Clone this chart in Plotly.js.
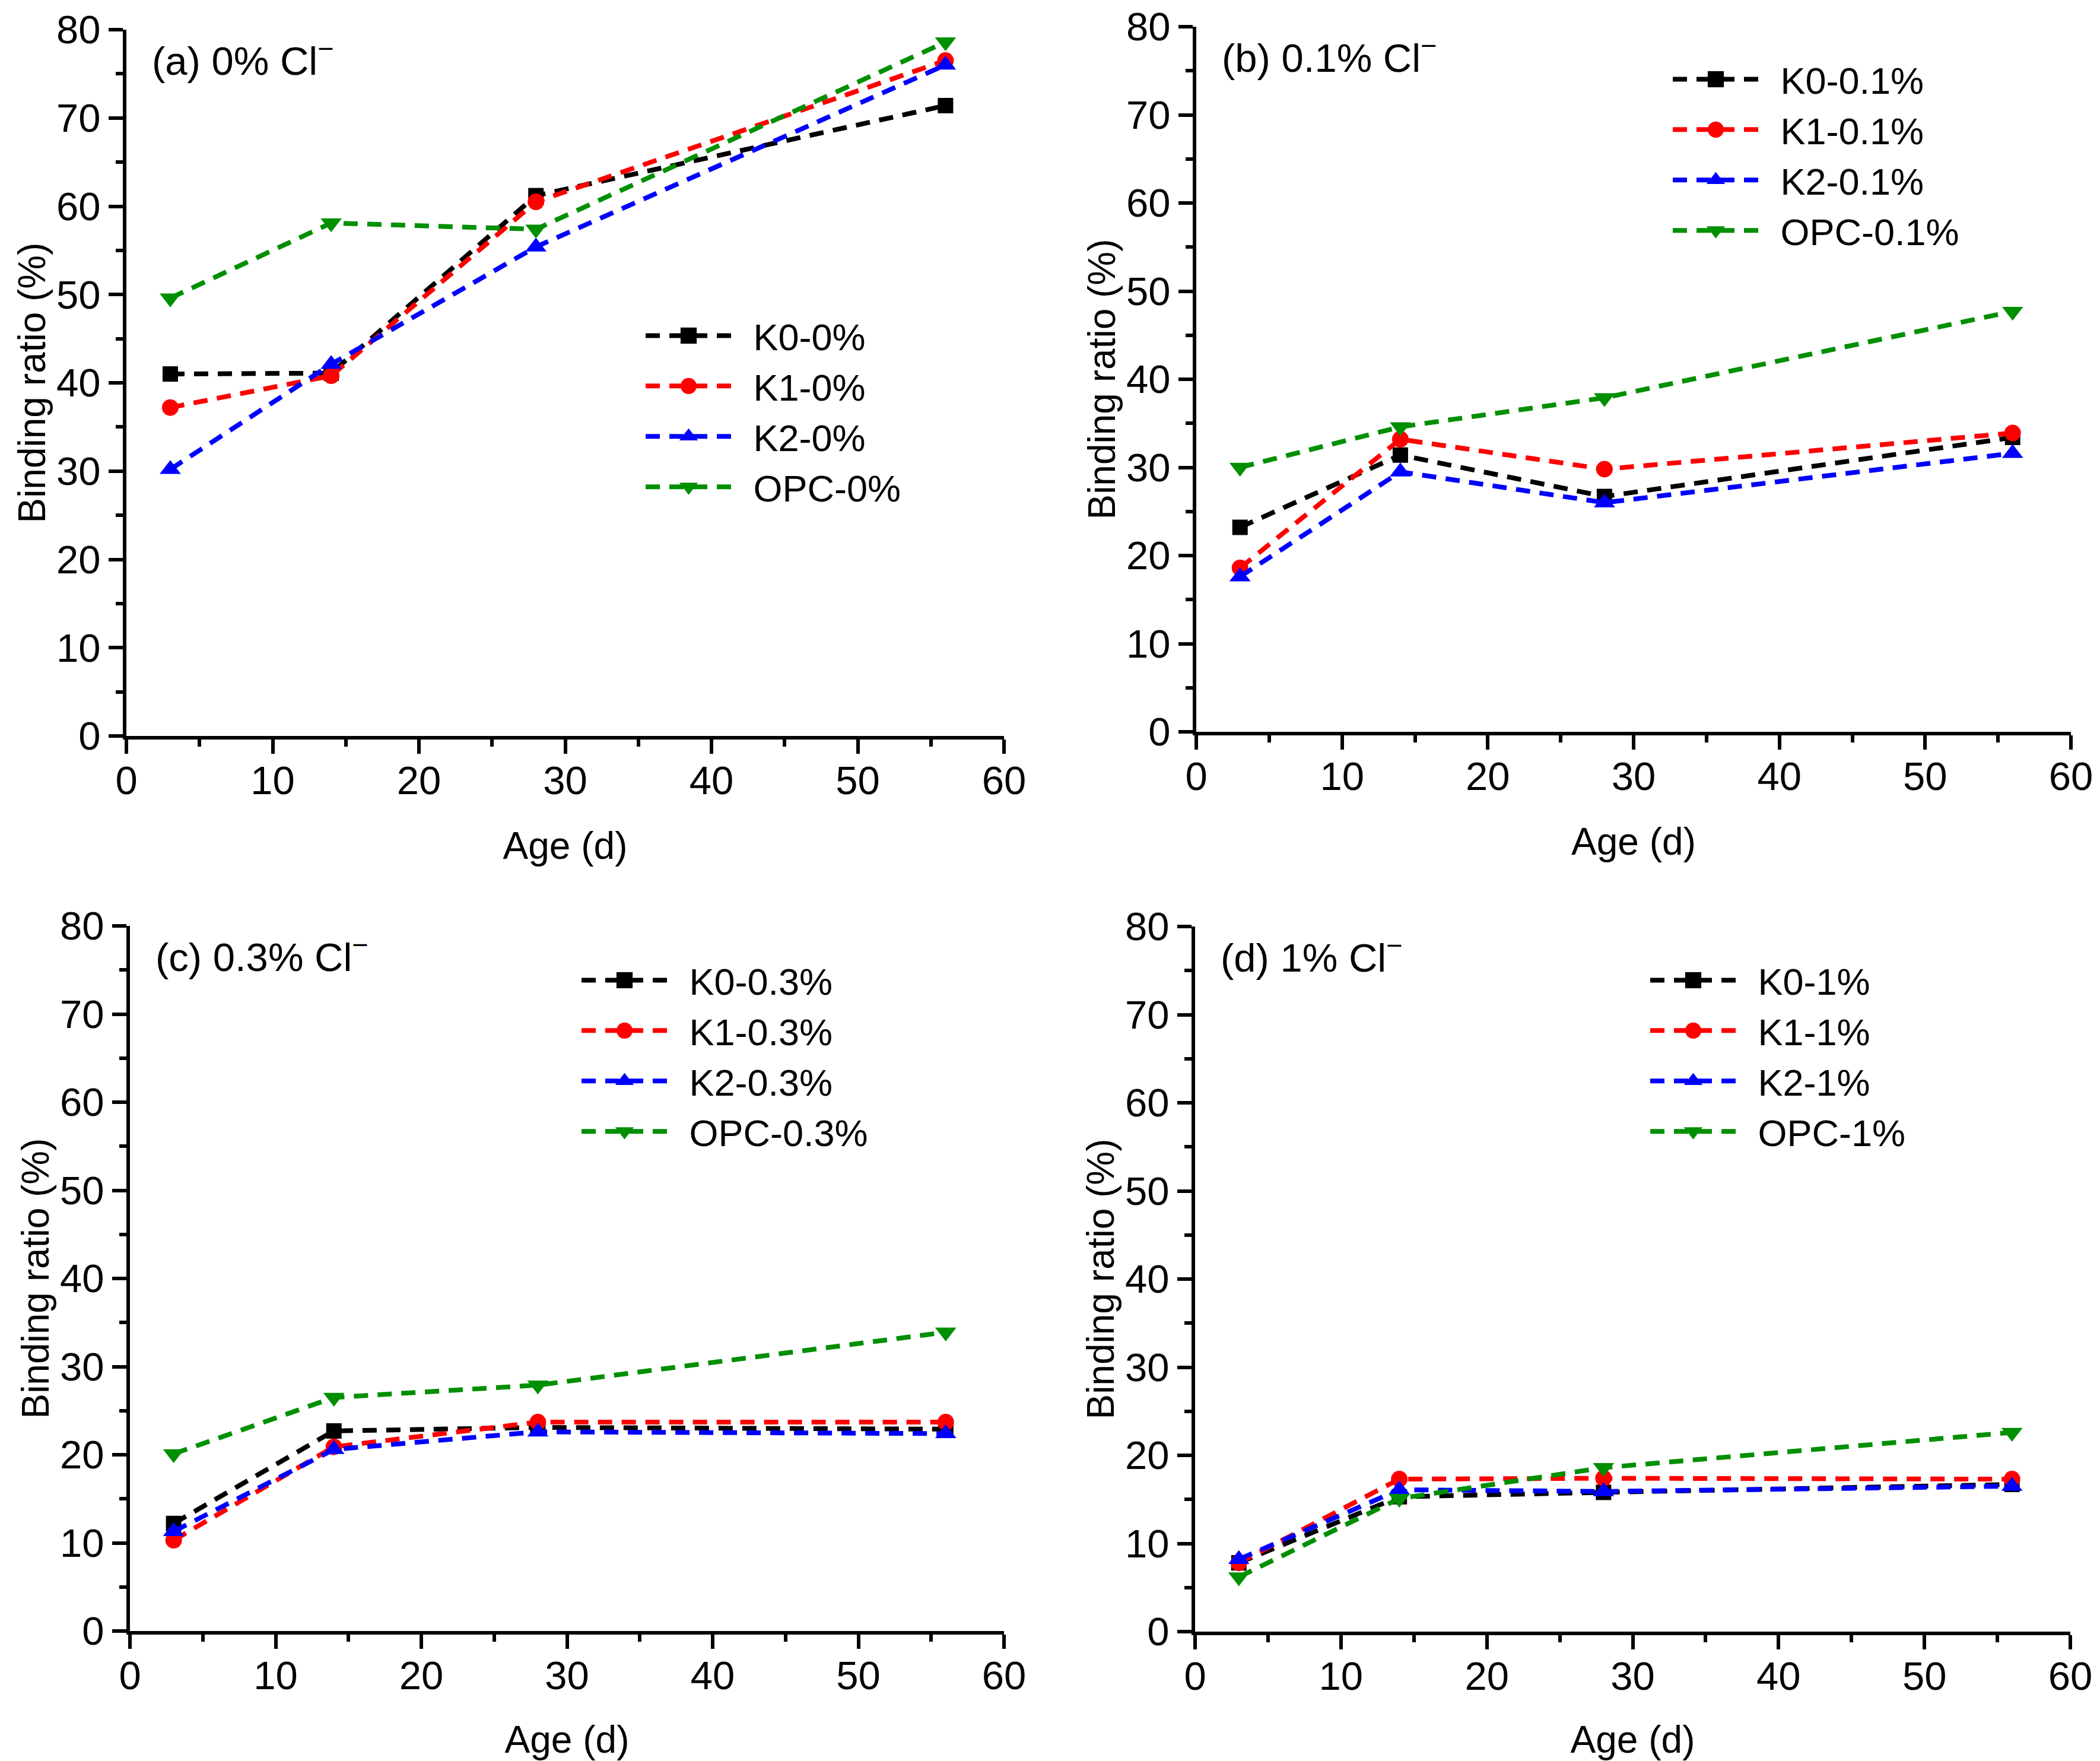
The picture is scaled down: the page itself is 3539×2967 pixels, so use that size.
<!DOCTYPE html>
<html>
<head>
<meta charset="utf-8">
<script src="https://cdn.plot.ly/plotly-3.0.1.min.js"></script>
<style>html,body{margin:0;padding:0;background:#fff;}#chart{width:3539px;height:2967px;}</style>
</head>
<body>
<div id="chart"></div>
<script>
// ---------------- data ----------------
const ages = [3, 14, 28, 56];

const a_K0  = [41.0, 41.1, 61.2, 71.4];
const a_K1  = [37.2, 40.8, 60.5, 76.5];
const a_K2  = [30.2, 42.1, 55.4, 76.0];
const a_OPC = [49.6, 58.1, 57.4, 78.6];

const b_K0  = [23.2, 31.4, 26.7, 33.4];
const b_K1  = [18.6, 33.2, 29.8, 33.9];
const b_K2  = [17.6, 29.5, 26.0, 31.6];
const b_OPC = [30.0, 34.6, 37.9, 47.7];

const c_K0  = [12.2, 22.7, 23.1, 22.9];
const c_K1  = [10.3, 20.9, 23.7, 23.7];
const c_K2  = [11.3, 20.6, 22.6, 22.4];
const c_OPC = [20.1, 26.5, 27.9, 33.9];

const d_K0  = [7.8, 15.3, 15.8, 16.7];
const d_K1  = [7.8, 17.3, 17.4, 17.3];
const d_K2  = [8.2, 16.1, 15.9, 16.5];
const d_OPC = [6.2, 15.1, 18.6, 22.6];

const seriesNames = ['K0', 'K1', 'K2', 'OPC'];
const panelLevels = ['0%', '0.1%', '0.3%', '1%'];
const panelLetters = ['(a)', '(b)', '(c)', '(d)'];
const xTicks = [0, 10, 20, 30, 40, 50, 60];
const yTicks = [0, 10, 20, 30, 40, 50, 60, 70, 80];
const xTitle = 'Age (d)';
const yTitle = 'Binding ratio (%)';

// ---------------- styles ----------------
const colors  = ['#000000', '#ff0000', '#0000ff', '#008f00'];
const symbols = ['square', 'circle', 'triangle-up', 'triangle-down'];
const msizes  = [26, 28, 31, 31];
const FONT = 'Liberation Sans, Arial, sans-serif';
const W = 3539, H = 2967;

const panelData = [
  [a_K0, a_K1, a_K2, a_OPC],
  [b_K0, b_K1, b_K2, b_OPC],
  [c_K0, c_K1, c_K2, c_OPC],
  [d_K0, d_K1, d_K2, d_OPC]
];

// pixel boxes: [left, right, top, bottom]
const boxes = [
  [213, 1692, 50, 1240],
  [2016, 3490, 45, 1233],
  [219, 1692, 1560, 2748],
  [2014, 3489, 1561, 2749]
];
// legend anchor (line start x, first row center y)
const legPos = [[1088, 566], [2819, 134], [980, 1652], [2781, 1652]];

const traces = [];
const layout = {
  width: W, height: H,
  margin: {l: 0, r: 0, t: 0, b: 0},
  paper_bgcolor: '#ffffff', plot_bgcolor: '#ffffff',
  font: {family: FONT, size: 67, color: '#000'},
  showlegend: true,
  annotations: []
};

panelData.forEach((ser, p) => {
  const sfx = p === 0 ? '' : String(p + 1);
  const legName = p === 0 ? 'legend' : 'legend' + (p + 1);
  const b = boxes[p];
  ser.forEach((vals, i) => {
    traces.push({
      type: 'scatter', mode: 'lines+markers',
      x: ages, y: vals,
      xaxis: 'x' + sfx, yaxis: 'y' + sfx,
      name: '\u2002' + seriesNames[i] + '-' + panelLevels[p],
      legend: legName,
      line: {color: colors[i], width: 8, dash: '24px,16px'},
      marker: {symbol: symbols[i], size: msizes[i], color: colors[i], line: {width: 0}}
    });
  });
  const axCommon = {
    showgrid: false, zeroline: false, showline: true,
    linecolor: '#000', linewidth: 6,
    ticks: 'outside', ticklen: 24, tickwidth: 6, tickcolor: '#000',
    tickfont: {family: FONT, size: 67, color: '#000'},
    fixedrange: true, automargin: false
  };
  layout['xaxis' + sfx] = Object.assign({}, axCommon, {
    domain: [b[0] / W, b[1] / W],
    anchor: 'y' + sfx,
    range: [0, 60], tickvals: xTicks, ticktext: xTicks.map(String),
    ticklabelstandoff: -12,
    minor: {dtick: 5, tick0: 0, ticks: 'outside', ticklen: 12, tickwidth: 6, tickcolor: '#000'},
    title: {text: xTitle, font: {family: FONT, size: 64, color: '#000'}}
  });
  layout['yaxis' + sfx] = Object.assign({}, axCommon, {
    domain: [1 - b[3] / H, 1 - b[2] / H],
    anchor: 'x' + sfx,
    range: [0, 80], tickvals: yTicks, ticktext: yTicks.map(String),
    minor: {dtick: 5, tick0: 0, ticks: 'outside', ticklen: 12, tickwidth: 6, tickcolor: '#000'},
    title: {text: yTitle, font: {family: FONT, size: 64, color: '#000'}}
  });
  layout[legName] = {
    x: (legPos[p][0] - 5) / W, y: 1 - (legPos[p][1] - 48) / H,
    xanchor: 'left', yanchor: 'top', xref: 'paper', yref: 'paper',
    bgcolor: 'rgba(0,0,0,0)', borderwidth: 0,
    font: {family: FONT, size: 63, color: '#000'},
    itemwidth: 145, tracegroupgap: 0, traceorder: 'normal'
  };
  layout.annotations.push({
    xref: 'x' + sfx + ' domain', yref: 'y' + sfx + ' domain',
    x: 0.028, y: 0.96, xanchor: 'left', yanchor: 'middle', showarrow: false,
    text: panelLetters[p] + ' ' + panelLevels[p] + ' Cl<sup>\u2212</sup>',
    font: {family: FONT, size: 67, color: '#000'}
  });
});

function postStyle() {
  document.querySelectorAll('.legendpoints path.scatterpts').forEach(el => {
    const t = el.getAttribute('transform') || '';
    if (t.indexOf('scale') < 0) el.setAttribute('transform', t + ' scale(1.7)');
  });
  document.querySelectorAll('g.g-ytitle, g.g-y2title, g.g-y3title, g.g-y4title').forEach(g => {
    g.setAttribute('transform', 'translate(6,0)');
  });
}

Plotly.newPlot('chart', traces, layout, {staticPlot: true, displayModeBar: false}).then(() => {
  try { postStyle(); } catch (e) {}
});
</script>
</body>
</html>
